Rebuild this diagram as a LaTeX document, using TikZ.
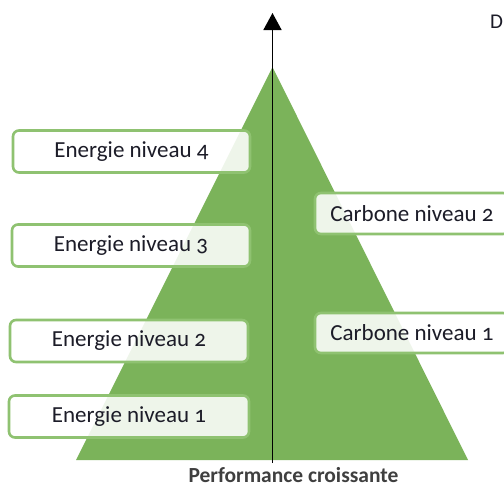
\documentclass[tikz,border=0pt]{standalone}
\usepackage{fontspec}
\usetikzlibrary{arrows.meta}
\setmainfont[Numbers=OldStyle]{Carlito}
\definecolor{tri}{HTML}{7BB35A}
\definecolor{boxline}{HTML}{8FC271}
\definecolor{txt}{HTML}{1C1C28}
\definecolor{perf}{HTML}{3F3F3F}
\tikzset{
  lvl/.style={draw=boxline, line width=2.6pt, fill=white, fill opacity=0.88, text opacity=1,
    rounded corners=6pt, minimum height=42pt, text=txt, font=\fontsize{23}{26}\selectfont, inner sep=0pt},
}
\begin{document}
\begin{tikzpicture}[x=1pt,y=-1pt]
\useasboundingbox (0,0) rectangle (504,488);
\clip (0,0) rectangle (504,488);
\fill[white] (0,0) rectangle (504,488);
\coordinate (apex) at (272.5,67);
\coordinate (bl) at (76,460);
\coordinate (br) at (468,460);
\fill[tri] (apex) -- (br) -- (bl) -- cycle;
\coordinate (bot) at (272.5,463);
\coordinate (top) at (272.5,13);
\draw[line width=1.6pt, -{Triangle[length=17pt,width=18pt]}] (bot) -- (top);
\node[lvl, minimum width=237pt] (e4) at (131.5,151.5) {Energie niveau 4};
\node[lvl, minimum width=238pt] (e3) at (131,245.5) {Energie niveau 3};
\node[lvl, minimum width=238pt] (e2) at (129,341) {Energie niveau 2};
\node[lvl, minimum width=240pt] (e1) at (129,416.5) {Energie niveau 1};
\node[lvl, minimum width=194pt, minimum height=41pt] (c2) at (412,213.5) {Carbone niveau 2};
\node[lvl, minimum width=194pt, minimum height=40pt] (c1) at (412,333) {Carbone niveau 1};
\node[font=\bfseries\fontsize{21.5}{24}\selectfont, text=perf, inner sep=0pt] (perf) at (293.5,475.5) {Performance croissante};
\node[font=\fontsize{21}{24}\selectfont, text=txt, anchor=west, inner sep=0pt] (d) at (490,22) {D};
\end{tikzpicture}
\end{document}
